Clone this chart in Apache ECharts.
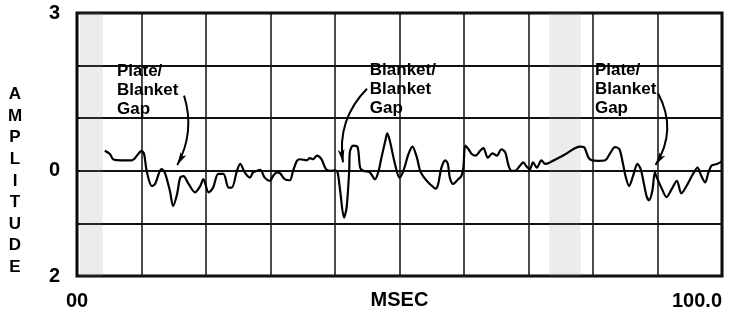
<!DOCTYPE html>
<html>
<head>
<meta charset="utf-8">
<script src="https://cdn.jsdelivr.net/npm/echarts@6/dist/echarts.min.js"></script>
<style>
html, body { margin: 0; padding: 0; background: #fff; }
#main { width: 736px; height: 323px; }
</style>
</head>
<body>
<div id="main"></div>
<script>
// trace, [msec, amplitude]
var traceData = [
    [4.3,0.38],[5.1,0.32],[5.6,0.22],[6.9,0.2],[8.5,0.2],[9.5,0.32],[10.0,0.38],[10.4,0.32],
    [10.8,0],[11.6,-0.29],[12.1,-0.25],[13.1,0.03],[13.6,-0.03],[14.4,-0.38],[14.9,-0.67],
    [15.5,-0.45],[16.0,-0.13],[16.5,-0.1],[17.3,-0.25],[18.3,-0.41],[19.1,-0.29],[19.6,-0.16],
    [20.4,-0.41],[21.1,-0.32],[21.9,-0.06],[22.7,-0.06],[23.5,-0.32],[24.0,-0.32],[24.8,0],
    [25.3,0.13],[26.0,-0.03],[26.8,-0.13],[27.3,-0.03],[27.9,0],[28.4,0.02],[29.1,-0.13],
    [29.9,-0.19],[30.4,-0.1],[31.0,-0.03],[31.5,-0.05],[32.2,-0.16],[33.0,-0.18],[33.5,0],
    [34.1,0.19],[34.6,0.22],[35.6,0.2],[36.1,0.24],[36.6,0.22],[37.2,0.29],[37.9,0.22],
    [38.6,0.03],[39.2,0],[40.0,0.01],[40.4,-0.03],[40.8,-0.38],[41.4,-0.89],[41.8,-0.7],
    [42.2,0],[42.3,0.35],[42.8,0.48],[43.5,0.45],[43.9,0.06],[44.4,0],[45.4,-0.03],[46.2,-0.16],
    [46.7,-0.03],[47.2,0.25],[47.8,0.57],[48.1,0.71],[48.5,0.57],[49.3,0.13],[50.0,-0.13],
    [50.6,0],[51.4,0.32],[52.0,0.46],[52.7,0.25],[53.2,0],[54.0,-0.16],[54.7,-0.25],[55.6,-0.34],
    [56.0,-0.25],[56.5,0.06],[57.1,0.2],[57.5,0.13],[57.8,-0.13],[58.3,-0.25],[59.1,-0.16],
    [59.6,-0.1],[59.9,0.06],[60.2,0.48],[60.7,0.41],[61.2,0.32],[61.8,0.29],[62.5,0.38],
    [63.0,0.43],[63.7,0.25],[64.4,0.33],[65.1,0.29],[65.8,0.41],[66.4,0.35],[66.9,0.1],
    [67.4,0],[67.9,0],[68.7,0.1],[69.2,0.16],[69.7,0.08],[70.2,0.03],[70.7,0.16],[71.3,0.06],
    [72.0,0.2],[72.6,0.13],[73.3,0.16],[75.5,0.3],[78.0,0.46],[78.6,0.45],[79.3,0.25],
    [79.8,0.2],[80.8,0.19],[81.9,0.2],[82.6,0.32],[83.4,0.45],[84.1,0.41],[84.7,0.1],
    [85.1,-0.13],[85.6,-0.29],[86.2,-0.1],[86.9,0.13],[87.4,0.03],[87.9,-0.25],[88.3,-0.48],
    [88.7,-0.56],[89.2,-0.38],[89.6,-0.03],[89.9,-0.13],[90.6,-0.32],[91.4,-0.5],[92.2,-0.35],
    [93.0,-0.19],[93.7,-0.43],[94.5,-0.29],[95.5,-0.06],[96.2,0.06],[96.8,-0.1],[97.4,-0.22],
    [97.9,-0.03],[98.4,0.1],[99.2,0.13],[100,0.18]
];

var xTickLabels = { 0: '00', 100: '100.0' };
var yTickLabels = { 3: '3', 0: '0', '-2': '2' };

// stippled strips on the photo
var shadedBands = [[0.5, 4.0], [73.2, 78.1]];

var gapNotes = [
    { name: 'Plate/\nBlanket\nGap', at: [6.2, 2.08] },
    { name: 'Blanket/\nBlanket\nGap', at: [45.4, 2.1] },
    { name: 'Plate/\nBlanket\nGap', at: [80.3, 2.1] }
];

var gapArrows = [
    { from: [16.6, 1.43], to: [15.55, 0.11], bend: 0.21 },
    { from: [44.96, 1.56], to: [41.24, 0.16], bend: -0.25 },
    { from: [90.1, 1.47], to: [89.7, 0.11], bend: 0.29 }
];

var font = "'Liberation Sans', Arial, sans-serif";

var myChart = echarts.init(document.getElementById('main'));
var option = {
    animation: false,
    grid: {
        left: 77, right: 14, top: 13, bottom: 47,
        outerBoundsMode: 'none',
        containLabel: false,
        show: true,
        borderColor: '#000',
        borderWidth: 3
    },
    xAxis: {
        type: 'value',
        min: 0, max: 100, interval: 10,
        name: 'MSEC',
        nameLocation: 'middle',
        nameGap: 14,
        nameMoveOverlap: false,
        nameTextStyle: { color: '#000', fontSize: 20, fontWeight: 'bold', fontFamily: font, verticalAlign: 'top' },
        axisLine: { show: false },
        axisTick: { show: false },
        axisLabel: {
            margin: 15,
            color: '#000', fontSize: 20, fontWeight: 'bold', fontFamily: font,
            alignMaxLabel: 'right',
            formatter: function (v) { return xTickLabels[v] || ''; }
        },
        splitLine: { lineStyle: { color: '#111', width: 1.5 } }
    },
    yAxis: {
        type: 'value',
        min: -2, max: 3, interval: 1,
        axisLine: { show: false },
        axisTick: { show: false },
        axisLabel: {
            margin: 17,
            color: '#000', fontSize: 20, fontWeight: 'bold', fontFamily: font,
            formatter: function (v) { return yTickLabels[v] || ''; }
        },
        splitLine: { lineStyle: { color: '#111', width: 2 } }
    },
    graphic: [{
        type: 'text',
        x: 15, y: 181,
        style: {
            text: 'A\nM\nP\nL\nI\nT\nU\nD\nE',
            fill: '#000',
            font: 'bold 17px ' + font,
            lineHeight: 21.6,
            align: 'center',
            verticalAlign: 'middle'
        }
    }],
    series: [
        {
            type: 'line',
            data: traceData,
            showSymbol: false,
            smooth: 0.3,
            lineStyle: { color: '#000', width: 2.2 },
            markArea: {
                silent: true,
                itemStyle: { color: 'rgba(150,150,150,0.18)' },
                data: shadedBands.map(function (b) {
                    return [{ xAxis: b[0] }, { xAxis: b[1] }];
                })
            },
            markPoint: {
                silent: true,
                symbol: 'circle',
                symbolSize: 0,
                label: {
                    show: true,
                    position: [0, 0],
                    align: 'left',
                    verticalAlign: 'top',
                    formatter: '{b}',
                    color: '#000',
                    fontSize: 17,
                    fontWeight: 'bold',
                    fontFamily: font,
                    lineHeight: 19
                },
                data: gapNotes.map(function (n) {
                    return { name: n.name, coord: n.at };
                })
            }
        },
        {
            type: 'lines',
            coordinateSystem: 'cartesian2d',
            silent: true,
            symbol: ['none', 'arrow'],
            symbolSize: [1, [5, 13]],
            lineStyle: { color: '#000', width: 2, opacity: 1 },
            data: gapArrows.map(function (a) {
                return { coords: [a.from, a.to], lineStyle: { curveness: a.bend } };
            })
        }
    ]
};
myChart.setOption(option);
</script>
</body>
</html>
